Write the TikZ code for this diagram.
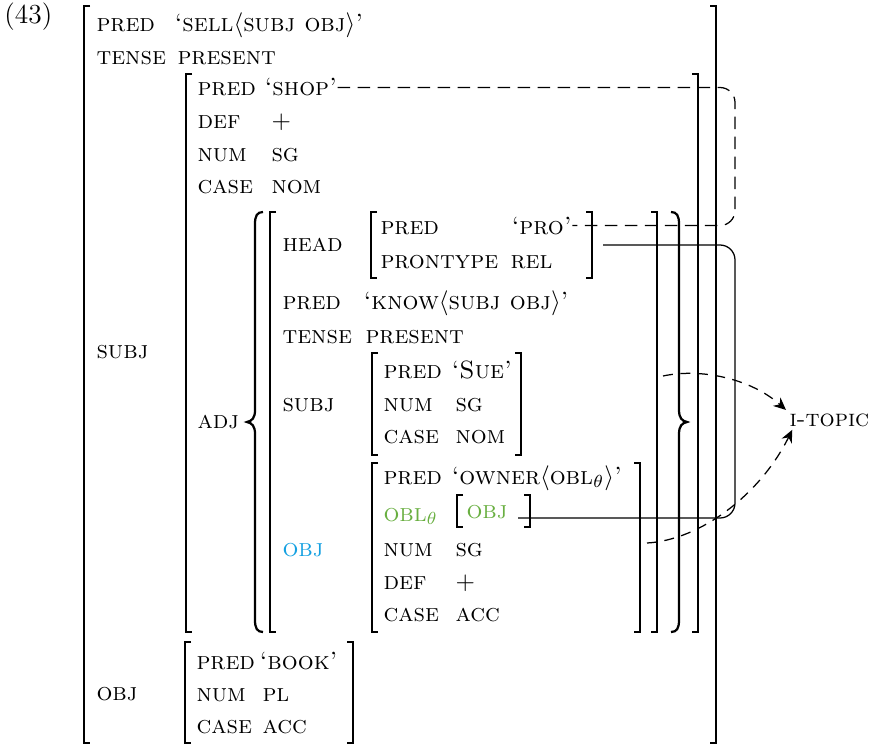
\documentclass[tikz,border=0pt]{standalone}
\usepackage{amsmath, amssymb}
\usepackage{xcolor}
\usetikzlibrary{arrows.meta,calc}
\definecolor{objblue}{RGB}{20,160,225}
\definecolor{oblgreen}{RGB}{105,175,65}

\begin{document}
\begin{tikzpicture}[x=0.4pt,y=-0.4pt,
    attr/.style={anchor=base west,inner sep=0pt,font=\scshape},
    brk/.style={line width=1.15pt},
    tie/.style={line width=0.5pt,dash pattern=on 5pt off 3pt,rounded corners=6pt},
    link/.style={line width=0.5pt,rounded corners=6pt},
    itarrow/.style={line width=0.5pt,dash pattern=on 4pt off 3pt,-{Stealth[length=5pt,width=4.5pt]}}]
      \useasboundingbox (0,0) rectangle (871,746);
      % example number
      \node[anchor=base west,inner sep=0pt,font=\fontsize{11}{13}\selectfont] (exno) at (4,24) {(43)};
      % square brackets: left/right/top/bottom
      \foreach \l/\r/\t/\b in {84/716/6/743, 186/698/74/632, 270/657/212/632,
          371/592/212/278, 372/521/353/455, 372/640/463/632, 457/530/495/527,
          185/353/642/743}{
        \draw[brk] (\l+6,\t) -- (\l,\t) -- (\l,\b) -- (\l+6,\b);
        \draw[brk] (\r-6,\t) -- (\r,\t) -- (\r,\b) -- (\r-6,\b);
      }
      % set braces round adj
      \draw[line width=0.9pt] (263,212) .. controls (257,212) and (255,216) .. (255,224) -- (255,410)
        .. controls (255,418) and (252,421) .. (247,422) .. controls (252,423) and (255,426) .. (255,434)
        -- (255,620) .. controls (255,628) and (257,632) .. (263,632);
      \draw[line width=0.9pt] (671,212) .. controls (677,212) and (679,216) .. (679,224) -- (679,410)
        .. controls (679,418) and (682,421) .. (687,422) .. controls (682,423) and (679,426) .. (679,434)
        -- (679,620) .. controls (679,628) and (677,632) .. (671,632);
      % top level
      \node[attr] (pred) at (96,32) {pred};
      \node[attr] (sell) at (174,32) {`sell$\langle$subj obj$\rangle$'};
      \node[attr] (tense) at (96,65) {tense};
      \node[attr] (present) at (177,65) {present};
      \node[attr] (subj) at (96,358) {subj};
      \node[attr] (obj) at (96,700) {obj};
      % subj
      \node[attr] (shoppred) at (197,96) {pred};
      \node[attr] (shop) at (264,96) {`shop'};
      \node[attr] (shopdef) at (197,128) {def};
      \node[attr] (shopplus) at (271,128) {$+$};
      \node[attr] (shopnum) at (197,161) {num};
      \node[attr] (shopsg) at (271,161) {sg};
      \node[attr] (shopcase) at (197,193) {case};
      \node[attr] (shopnom) at (271,193) {nom};
      \node[attr] (adj) at (197,428) {adj};
      % adjunct member
      \node[attr] (head) at (282,251) {head};
      \node[attr] (knowpred) at (282,309) {pred};
      \node[attr] (know) at (363,309) {`know$\langle$subj obj$\rangle$'};
      \node[attr] (knowtense) at (282,343) {tense};
      \node[attr] (knowpres) at (365,343) {present};
      \node[attr] (knowsubj) at (282,411) {subj};
      \node[attr,text=objblue] (knowobj) at (282,556) {obj};
      % head
      \node[attr] (propred) at (380,234) {pred};
      \node[attr] (pro) at (511,234) {`pro'};
      \node[attr] (prontype) at (380,268) {prontype};
      \node[attr] (rel) at (510,268) {rel};
      % subj of know
      \node[attr] (suepred) at (383,378) {pred};
      \node[attr] (sue) at (451,378) {`Sue'};
      \node[attr] (suenum) at (383,411) {num};
      \node[attr] (suesg) at (455,411) {sg};
      \node[attr] (suecase) at (383,443) {case};
      \node[attr] (suenom) at (455,443) {nom};
      % obj of know
      \node[attr] (ownerpred) at (383,484) {pred};
      \node[attr] (owner) at (451,484) {`owner$\langle$obl$_\theta\rangle$'};
      \node[attr,text=oblgreen] (obl) at (383,521) {obl$_\theta$};
      \node[attr,text=oblgreen] (oblobj) at (466,518) {obj};
      \node[attr] (ownernum) at (383,556) {num};
      \node[attr] (ownersg) at (455,556) {sg};
      \node[attr] (ownerdef) at (383,589) {def};
      \node[attr] (ownerplus) at (455,589) {$+$};
      \node[attr] (ownercase) at (383,621) {case};
      \node[attr] (owneracc) at (455,621) {acc};
      % obj
      \node[attr] (bookpred) at (196,669) {pred};
      \node[attr] (book) at (259,669) {`book'};
      \node[attr] (booknum) at (196,701) {num};
      \node[attr] (bookpl) at (262,701) {pl};
      \node[attr] (bookcase) at (196,733) {case};
      \node[attr] (bookacc) at (262,733) {acc};
      % i-topic
      \node[attr,inner sep=1.2pt,font=\fontsize{9.5}{11}\selectfont\scshape] (itopic) at (786,426) {i-topic};
      % links
      \coordinate (tiebend) at (735,150);
      \coordinate (linkbend) at (735,400);
      \coordinate (headout) at (603,245);
      \coordinate (oblslot) at (518,518);
      \coordinate (suefs) at (663,376);
      \coordinate (ownerfs) at (647,543);
      \draw[tie] (shop.east) -| (tiebend) |- (pro.east);
      \draw[link] (headout) -| (linkbend) |- (oblslot);
      \draw[itarrow] (suefs) .. controls (700,368) and (750,378) .. (itopic.north west);
      \draw[itarrow] (ownerfs) .. controls (700,540) and (760,495) .. ([xshift=2.5pt]itopic.south west);
    \end{tikzpicture}
\end{document}
